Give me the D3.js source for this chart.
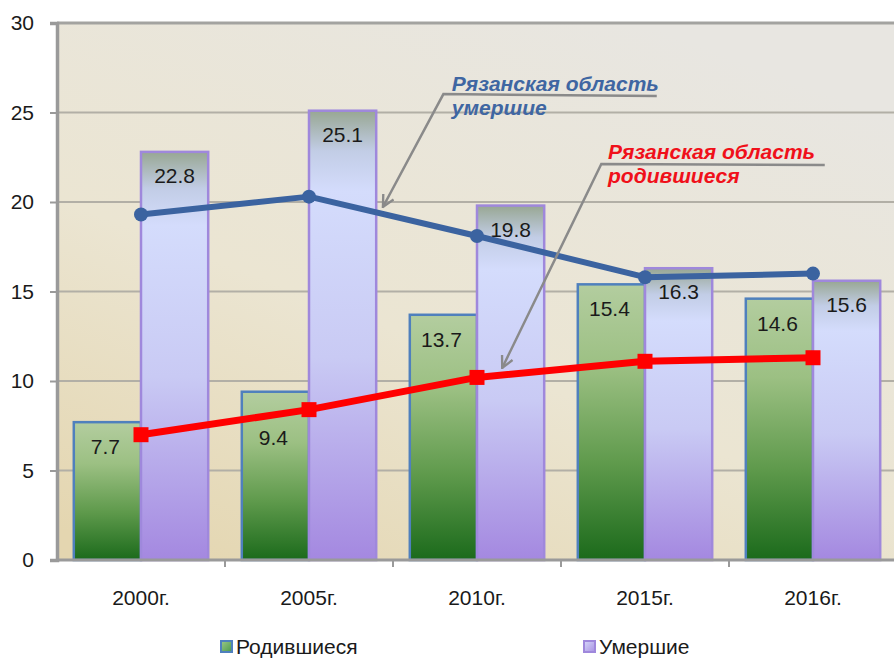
<!DOCTYPE html>
<html>
<head>
<meta charset="utf-8">
<script src="https://cdn.jsdelivr.net/npm/d3@7"></script>
<style>
  html, body { margin: 0; padding: 0; background: #ffffff; }
  svg { display: block; font-family: "Liberation Sans", Arial, sans-serif; }
</style>
</head>
<body>
<svg id="chart" width="894" height="658"></svg>
<script>
// ---- data ----
const categories = ["2000г.", "2005г.", "2010г.", "2015г.", "2016г."];
const born = [7.7, 9.4, 13.7, 15.4, 14.6];        // Родившиеся (bars)
const died = [22.8, 25.1, 19.8, 16.3, 15.6];      // Умершие (bars)
const ryazanDied = [19.3, 20.3, 18.1, 15.8, 16.0]; // Рязанская область умершие (line)
const ryazanBorn = [7.0, 8.4, 10.2, 11.1, 11.3];   // Рязанская область родившиеся (line)
const yTicks = [0, 5, 10, 15, 20, 25, 30];
const legendLabels = ["Родившиеся", "Умершие"];
const annoDiedLines = ["Рязанская область", "умершие"];
const annoBornLines = ["Рязанская область", "родившиеся"];

// ---- layout ----
const svg = d3.select("#chart");
const plot = { left: 57, right: 897, top: 23, bottom: 560 };

const x = d3.scaleBand().domain(categories).range([plot.left, plot.right]).paddingInner(0).paddingOuter(0);
const xSub = d3.scaleBand().domain(["born", "died"]).range([0, x.bandwidth()]).paddingInner(0).paddingOuter(0.25);
const y = d3.scaleLinear().domain([0, 30]).range([plot.bottom, plot.top]);
// index scale for annotation anchoring (category index -> band center)
const xi = d3.scaleLinear().domain([0, 1]).range([x(categories[0]) + x.bandwidth() / 2, x(categories[1]) + x.bandwidth() / 2]);

// ---- defs ----
const defs = svg.append("defs");
const bg = defs.append("linearGradient").attr("id", "bgGrad").attr("x1", 0.7).attr("y1", 0).attr("x2", 0.1).attr("y2", 1);
[["0%", "#e8e6e1"], ["55%", "#ebe5d2"], ["100%", "#e4d6b0"]].forEach(([o, c]) => bg.append("stop").attr("offset", o).attr("stop-color", c));

const gg = defs.append("linearGradient").attr("id", "greenGrad").attr("x1", 0).attr("y1", 0).attr("x2", 0).attr("y2", 1);
[["0%", "#b3cd9f"], ["30%", "#9cc083"], ["65%", "#5f9a4c"], ["100%", "#1b6a1b"]].forEach(([o, c]) => gg.append("stop").attr("offset", o).attr("stop-color", c));

const pg = defs.append("linearGradient").attr("id", "purpleGrad").attr("x1", 0).attr("y1", 0).attr("x2", 0).attr("y2", 1);
[["0%", "#98a793"], ["9%", "#c2cde6"], ["18%", "#d4dcfc"], ["55%", "#c9caf4"], ["100%", "#a488e0"]].forEach(([o, c]) => pg.append("stop").attr("offset", o).attr("stop-color", c));

const lg = defs.append("linearGradient").attr("id", "legGreen").attr("x1", 0).attr("y1", 0).attr("x2", 1).attr("y2", 1);
[["0%", "#9cc88a"], ["100%", "#4a9a48"]].forEach(([o, c]) => lg.append("stop").attr("offset", o).attr("stop-color", c));
const lp = defs.append("linearGradient").attr("id", "legPurple").attr("x1", 0).attr("y1", 0).attr("x2", 1).attr("y2", 1);
[["0%", "#d6d8fa"], ["100%", "#a890e2"]].forEach(([o, c]) => lp.append("stop").attr("offset", o).attr("stop-color", c));

defs.append("marker").attr("id", "arrow").attr("viewBox", "0 0 12 12")
  .attr("refX", 11).attr("refY", 6).attr("markerWidth", 14).attr("markerHeight", 14)
  .attr("markerUnits", "userSpaceOnUse").attr("orient", "auto")
  .append("path").attr("d", "M1,1 L11,6 L1,11").attr("fill", "none").attr("stroke", "#8a8a8a").attr("stroke-width", 2);

// ---- plot background ----
svg.append("rect").attr("x", plot.left).attr("y", plot.top)
  .attr("width", plot.right - plot.left).attr("height", plot.bottom - plot.top)
  .attr("fill", "url(#bgGrad)");

// grid lines
svg.append("g").selectAll("line").data(yTicks.filter(t => t > 0)).join("line")
  .attr("x1", plot.left).attr("x2", plot.right)
  .attr("y1", d => y(d)).attr("y2", d => y(d))
  .attr("stroke", d => d === 30 ? "#a3a3a0" : "#b2afa6").attr("stroke-width", d => d === 30 ? 3 : 2);

// ---- y axis ----
const yAxis = d3.axisLeft(y).tickValues(yTicks).tickSize(7).tickPadding(16).tickFormat(d3.format("d"));
const gy = svg.append("g").attr("transform", `translate(${plot.left},0)`).call(yAxis)
  .attr("font-size", 21).attr("font-family", "Liberation Sans, Arial, sans-serif");
gy.select(".domain").attr("stroke", "#9a9a9a").attr("stroke-width", 3.5);
gy.selectAll(".tick line").attr("stroke", "#9a9a9a").attr("stroke-width", 2);
gy.selectAll(".tick text").attr("fill", "#1a1a1a");

// ---- bars ----
const groups = svg.append("g").selectAll("g").data(categories).join("g")
  .attr("transform", d => `translate(${x(d)},0)`);

groups.append("rect").attr("class", "born")
  .attr("x", xSub("born")).attr("width", xSub.bandwidth())
  .attr("y", (d, i) => y(born[i])).attr("height", (d, i) => y(0) - y(born[i]))
  .attr("fill", "url(#greenGrad)").attr("stroke", "#4f80bd").attr("stroke-width", 2.5);

groups.append("rect").attr("class", "died")
  .attr("x", xSub("died")).attr("width", xSub.bandwidth())
  .attr("y", (d, i) => y(died[i])).attr("height", (d, i) => y(0) - y(died[i]))
  .attr("fill", "url(#purpleGrad)").attr("stroke", "#9f88dc").attr("stroke-width", 2.5);

// helper: y pixel of a series line at absolute x
const cx = d => x(d) + x.bandwidth() / 2;
function lineYAt(series, px) {
  const xs = categories.map(cx);
  for (let k = 0; k < xs.length - 1; k++) {
    if (px >= xs[k] && px <= xs[k + 1]) {
      const t = (px - xs[k]) / (xs[k + 1] - xs[k]);
      return y(series[k] + t * (series[k + 1] - series[k]));
    }
  }
  return null;
}

// bar labels (moved below the red line when it would cross the label)
groups.append("text")
  .attr("x", xSub("born") + xSub.bandwidth() / 2 - 2)
  .attr("y", (d, i) => {
    const base = y(born[i]) + 32;
    const ly = lineYAt(ryazanBorn, x(d) + xSub("born") + xSub.bandwidth() / 2);
    if (ly !== null && ly > base - 22 && ly < base + 8) return ly + 30;
    return base;
  })
  .attr("text-anchor", "middle").attr("font-size", 21).attr("fill", "#1a1a1a")
  .text((d, i) => born[i].toFixed(1));
groups.append("text")
  .attr("x", xSub("died") + xSub.bandwidth() / 2)
  .attr("y", (d, i) => y(died[i]) + 31)
  .attr("text-anchor", "middle").attr("font-size", 21).attr("fill", "#1a1a1a")
  .text((d, i) => died[i].toFixed(1));

// ---- x axis ----
const xAxisLine = svg.append("g");
xAxisLine.append("line").attr("x1", plot.left).attr("x2", plot.right)
  .attr("y1", y(0)).attr("y2", y(0)).attr("stroke", "#9a9a9a").attr("stroke-width", 3);
xAxisLine.selectAll("line.tk").data(categories.slice(1)).join("line").attr("class", "tk")
  .attr("x1", d => x(d)).attr("x2", d => x(d))
  .attr("y1", y(0)).attr("y2", y(0) + 7).attr("stroke", "#9a9a9a").attr("stroke-width", 2);
xAxisLine.selectAll("text").data(categories).join("text")
  .attr("x", d => x(d) + x.bandwidth() / 2).attr("y", y(0) + 45)
  .attr("text-anchor", "middle").attr("font-size", 21).attr("fill", "#1a1a1a")
  .text(d => d);

// ---- lines ----
const lineGen = d3.line().x((d, i) => cx(categories[i])).y(d => y(d));
svg.append("path").datum(ryazanDied).attr("d", lineGen)
  .attr("fill", "none").attr("stroke", "#3b63a0").attr("stroke-width", 6).attr("stroke-linejoin", "round");
svg.append("g").selectAll("circle").data(ryazanDied).join("circle")
  .attr("cx", (d, i) => cx(categories[i])).attr("cy", d => y(d)).attr("r", 7)
  .attr("fill", "#3b63a0");

svg.append("path").datum(ryazanBorn).attr("d", lineGen)
  .attr("fill", "none").attr("stroke", "#ff0000").attr("stroke-width", 7).attr("stroke-linejoin", "round");
svg.append("g").selectAll("rect").data(ryazanBorn).join("rect")
  .attr("x", (d, i) => cx(categories[i]) - 7.5).attr("y", d => y(d) - 7.5)
  .attr("width", 15).attr("height", 15).attr("fill", "#ff0000");

// ---- annotations (anchored in data space: category index, value) ----
function annotation(pts, textAt, lines, color) {
  const p = pts.map(([i, v]) => [xi(i), y(v)]);
  svg.append("path").attr("d", d3.line()(p))
    .attr("fill", "none").attr("stroke", "#8a8a8a").attr("stroke-width", 2.5)
    .attr("marker-end", "url(#arrow)");
  const t = svg.append("text").attr("font-size", 21).attr("font-weight", "bold").attr("font-style", "italic")
    .attr("fill", color);
  lines.forEach((s, k) => t.append("tspan").attr("x", xi(textAt[0])).attr("y", y(textAt[1]) + k * 24).text(s));
}
annotation([[3.07, 25.92], [1.80, 26.03], [1.44, 19.72]], [1.85, 26.2], annoDiedLines, "#3f66a2");
annotation([[4.07, 22.07], [2.74, 22.12], [2.15, 10.73]], [2.78, 22.4], annoBornLines, "#f0101a");

// ---- legend ----
const legend = svg.append("g");
const legX = [221, 584];
legend.selectAll("rect").data(legendLabels).join("rect")
  .attr("x", (d, i) => legX[i]).attr("y", 641).attr("width", 11).attr("height", 11)
  .attr("fill", (d, i) => i === 0 ? "url(#legGreen)" : "url(#legPurple)")
  .attr("stroke", (d, i) => i === 0 ? "#4f80bd" : "#9f88dc").attr("stroke-width", 2);
legend.selectAll("text").data(legendLabels).join("text")
  .attr("x", (d, i) => legX[i] + 15).attr("y", 654)
  .attr("font-size", 21).attr("fill", "#1a1a1a").text(d => d);
</script>
</body>
</html>
